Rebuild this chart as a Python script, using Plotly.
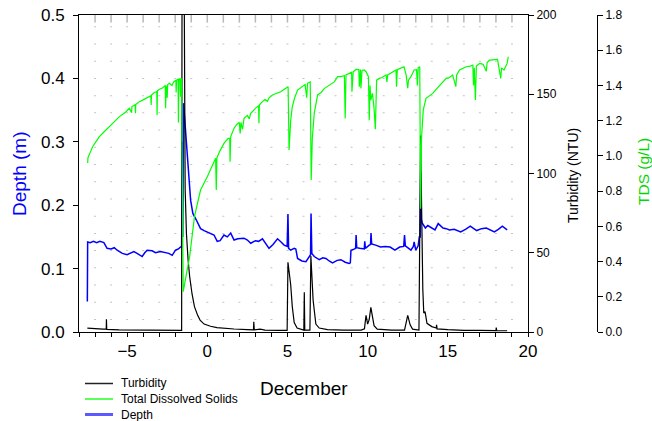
import plotly.graph_objects as go

# ---------------- data ----------------
depth_day = [-7.48, -7.46, -7.3, -7.1, -6.9, -6.7, -6.45, -6.25, -6.0, -5.8, -5.62, -5.3, -5.0, -4.8,
             -4.58, -4.38, -4.06, -3.9, -3.75, -3.44, -3.23, -2.92, -2.6, -2.4, -2.19, -1.98, -1.8,
             -1.67, -1.60, -1.57, -1.56, -1.55, -1.53, -1.51, -1.48, -1.04, -0.9, -0.69, -0.42, -0.2,
             0.0, 0.2, 0.42, 0.62, 0.8, 1.04, 1.25, 1.46, 1.67, 1.9, 2.29, 2.5, 2.71, 3.0, 3.2, 3.44,
             3.65, 3.85, 4.1, 4.38, 4.6, 4.79, 4.98, 5.03, 5.07, 5.2, 5.42, 5.52, 5.63, 5.9, 6.15,
             6.35, 6.44, 6.47, 6.52, 6.67, 6.98, 7.2, 7.4, 7.6, 7.81, 8.1, 8.33, 8.6, 8.85, 8.92,
             8.96, 9.1, 9.25, 9.28, 9.32, 9.5, 9.7, 9.79, 9.82, 9.86, 10.1, 10.18, 10.21, 10.25,
             10.5, 10.8, 11.1, 11.4, 11.7, 12.0, 12.25, 12.3, 12.35, 12.5, 12.7, 12.85, 12.9, 13.0,
             13.15, 13.22, 13.28, 13.31, 13.34, 13.4, 13.6, 13.75, 13.9, 14.2, 14.4, 14.7, 14.9,
             15.1, 15.4, 15.8, 16.1, 16.4, 16.8, 17.1, 17.4, 17.7, 17.9, 18.15, 18.4, 18.7]
depth_m = [0.048, 0.142, 0.141, 0.143, 0.141, 0.143, 0.141, 0.132, 0.131, 0.133, 0.129, 0.124, 0.122, 0.125,
           0.127, 0.124, 0.119, 0.125, 0.129, 0.128, 0.125, 0.127, 0.125, 0.124, 0.121, 0.129, 0.131,
           0.134, 0.134, 0.22, 0.14, 0.30, 0.15, 0.29, 0.361, 0.208, 0.187, 0.177, 0.163, 0.160,
           0.158, 0.156, 0.153, 0.143, 0.144, 0.153, 0.150, 0.156, 0.145, 0.147, 0.148, 0.145, 0.140, 0.144, 0.143, 0.147,
           0.140, 0.132, 0.138, 0.147, 0.142, 0.137, 0.135, 0.186, 0.132, 0.129, 0.132, 0.131, 0.116, 0.112, 0.111,
           0.118, 0.122, 0.187, 0.124, 0.119, 0.114, 0.117, 0.116, 0.112, 0.109, 0.113, 0.114, 0.110, 0.108, 0.109,
           0.129, 0.130, 0.132, 0.153, 0.133, 0.132, 0.131, 0.131, 0.143, 0.132, 0.137, 0.138, 0.156, 0.139,
           0.137, 0.134, 0.135, 0.134, 0.129, 0.134, 0.135, 0.153, 0.136, 0.133, 0.129, 0.135, 0.142, 0.129,
           0.136, 0.150, 0.150, 0.253, 0.178, 0.172, 0.164, 0.168, 0.166, 0.161, 0.171, 0.164, 0.163,
           0.161, 0.162, 0.158, 0.162, 0.167, 0.160, 0.163, 0.164, 0.160, 0.158, 0.162, 0.167, 0.161]

turb_day = [-7.48, -7.0, -6.5, -6.3, -6.29, -6.27, -5.5, -4.5, -3.5, -2.5, -1.6, -1.57, -1.45, -1.38,
            -1.3, -1.2, -1.1, -0.95, -0.8, -0.6, -0.45, -0.2, 0.2, 0.6, 1.0, 1.67, 2.5, 2.88, 2.9,
            2.93, 3.3, 3.6, 4.5, 4.98, 5.03, 5.2, 5.3, 5.42, 5.6, 5.9, 6.02, 6.05, 6.08, 6.4, 6.46,
            6.6, 6.77, 6.98, 7.5, 8.5, 9.6, 9.8, 9.9, 10.0, 10.1, 10.2, 10.4, 10.6, 11.5, 12.3, 12.5,
            12.65, 12.8, 13.2, 13.3, 13.44, 13.5, 13.58, 13.7, 14.0, 14.28, 14.3, 14.33, 15.0, 16.0,
            17.0, 18.0, 18.02, 18.05, 18.7]
turb_ntu = [2.5, 2.0, 1.8, 1.8, 8.0, 1.6, 1.3, 1.2, 1.0, 1.0, 1.0, 260, 240, 90,
            62, 46, 35, 24, 16, 10.5, 7.5, 5.0, 3.6, 2.8, 2.4, 1.9, 1.5, 1.4, 6.5,
            1.4, 1.8, 1.2, 1.0, 1.0, 44, 30, 16, 6, 2.5, 1.5, 1.2, 25, 1.2, 1.2, 48,
            20, 5, 2.5, 1.5, 1.2, 1.2, 2.0, 10.5, 5, 8, 15.5, 4, 1.8, 1.2, 1.2, 10.5,
            4.5, 1.8, 1.2, 124, 27, 12, 12.8, 5.5, 3.4, 2.5, 4.5, 2.0, 1.5, 1.0,
            1.0, 0.9, 2.8, 0.9, 0.8]

tds_day = [-7.46, -7.44, -7.3, -7.15, -6.95, -6.73, -6.4, -6.1, -5.9, -5.48, -5.1, -4.86, -4.72, -4.70,
           -4.5, -4.48, -4.46, -4.34, -4.23, -4.0, -3.8, -3.6, -3.52, -3.5, -3.48, -3.3, -3.15, -3.13,
           -3.11, -2.98, -2.8, -2.62, -2.6, -2.56, -2.5, -2.47, -2.36, -2.2, -2.1, -1.96, -1.94, -1.92,
           -1.82, -1.80, -1.78, -1.7, -1.67, -1.64, -1.6, -1.57, -1.5, -1.3, -1.1, -0.8, -0.59, -0.42,
           0.0, 0.3, 0.52, 0.56, 0.6, 0.8, 1.04, 1.3, 1.40, 1.42, 1.46, 1.67, 1.85, 2.0, 2.05, 2.1,
           2.2, 2.29, 2.5, 2.62, 2.7, 3.0, 3.2, 3.22, 3.25, 3.44, 3.6, 3.75, 3.85, 4.06, 4.3, 4.58,
           4.8, 5.0, 5.04, 5.1, 5.2, 5.3, 5.45, 5.63, 5.9, 6.1, 6.2, 6.25, 6.42, 6.48, 6.55, 6.67,
           6.88, 7.1, 7.29, 7.5, 7.7, 7.92, 8.13, 8.3, 8.55, 8.6, 8.65, 8.85, 9.0, 9.02, 9.1, 9.27,
           9.45, 9.48, 9.55, 9.58, 9.65, 9.79, 9.9, 10.05, 10.1, 10.15, 10.2, 10.3, 10.4, 10.48,
           10.56, 10.73, 10.9, 11.15, 11.2, 11.25, 11.56, 11.77, 11.8, 11.85, 12.1, 12.27, 12.4,
           12.5, 12.55, 12.7, 12.9, 13.05, 13.1, 13.15, 13.25, 13.3, 13.36, 13.47, 13.64, 13.85,
           14.06, 14.3, 14.5, 14.69, 14.9, 15.1, 15.3, 15.5, 15.55, 15.73, 15.95, 16.15, 16.4,
           16.56, 16.6, 16.65, 16.72, 16.78, 16.98, 17.2, 17.4, 17.45, 17.6, 17.9, 18.1, 18.3,
           18.35, 18.5, 18.7, 18.77]
tds_gl = [0.96, 0.99, 1.02, 1.052, 1.08, 1.109, 1.14, 1.165, 1.185, 1.223, 1.248, 1.27, 1.245, 1.28,
          1.29, 1.242, 1.292, 1.30, 1.308, 1.318, 1.33, 1.34, 1.342, 1.289, 1.345, 1.36, 1.365, 1.232,
          1.37, 1.378, 1.385, 1.40, 1.27, 1.40, 1.33, 1.405, 1.412, 1.40, 1.42, 1.43, 1.36, 1.43,
          1.435, 1.19, 1.43, 1.44, 1.336, 1.44, 1.435, 1.0, 0.229, 0.33, 0.428, 0.655, 0.749, 0.806,
          0.882, 0.94, 0.986, 0.806, 0.99, 1.03, 1.071, 1.10, 1.10, 0.967, 1.11, 1.157, 1.18, 1.19, 1.128, 1.19,
          1.15, 1.213, 1.23, 1.21, 1.24, 1.27, 1.285, 1.185, 1.29, 1.308, 1.32, 1.31, 1.33, 1.346, 1.355, 1.364,
          1.378, 1.393, 1.393, 1.033, 1.20, 1.279, 1.33, 1.374, 1.39, 1.405, 1.33, 1.412, 1.42, 0.863, 1.10, 1.242,
          1.346, 1.36, 1.382, 1.395, 1.41, 1.42, 1.45, 1.45, 1.455, 1.213, 1.46, 1.47, 1.475, 1.364, 1.478, 1.491,
          1.49, 1.393, 1.49, 1.384, 1.485, 1.488, 1.478, 1.45, 1.203, 1.40, 1.317, 1.355, 1.27, 1.151,
          1.43, 1.44, 1.445, 1.459, 1.42, 1.46, 1.478, 1.488, 1.393, 1.49, 1.50, 1.506, 1.46,
          1.384, 1.43, 1.45, 1.488, 1.49, 1.40, 1.50, 1.506, 0.70, 1.10, 1.261, 1.327, 1.34,
          1.355, 1.38, 1.40, 1.421, 1.44, 1.445, 1.459, 1.393, 1.46, 1.488, 1.50, 1.506, 1.51,
          1.516, 1.40, 1.50, 1.317, 1.51, 1.525, 1.52, 1.48, 1.53, 1.544, 1.546, 1.548, 1.44,
          1.50, 1.487, 1.525, 1.563]

x_major_ticks = [-5, 0, 5, 10, 15, 20]
grid_days = list(range(-7, 20))
legend_labels = ["Turbidity", "Total Dissolved Solids", "Depth"]
legend_colors = ["#222222", "#00ff00", "#5a5aff"]
legend_widths = [1.5, 1.3, 3]

# ---------------- figure ----------------
FONT = "Liberation Sans, Arial, sans-serif"
W, H = 652, 421
L, R, T, B = 79, 12, 15, 89
paper_w = W - L - R
xdom_end = (528 - L) / paper_w
tds_pos = (597 - L) / paper_w

def px_x(p):
    return (p - L) / paper_w

def px_y(p):
    return (332 - p) / (332 - T)

fig = go.Figure()
fig.add_trace(go.Scatter(x=turb_day, y=turb_ntu, mode="lines", name=legend_labels[0],
                         line=dict(color="black", width=1.2), yaxis="y2"))
fig.add_trace(go.Scatter(x=tds_day, y=tds_gl, mode="lines", name=legend_labels[1],
                         line=dict(color="#00ff00", width=1.2), yaxis="y3"))
fig.add_trace(go.Scatter(x=depth_day, y=depth_m, mode="lines", name=legend_labels[2],
                         line=dict(color="#0000ff", width=1.5), yaxis="y"))

shapes = []
y_dot_start = (332 - 320) / 634.0
for d in grid_days:
    shapes.append(dict(type="line", xref="x", yref="y", x0=d, x1=d, y0=y_dot_start, y1=0.492,
                       line=dict(color="#c4c4c4", width=2, dash="1px,16.22px"), layer="below"))
    shapes.append(dict(type="line", xref="x", yref="y", x0=d, x1=d, y0=0.5, y1=0.488,
                       line=dict(color="#b8b8b8", width=1.5), layer="below"))

annotations = [
    dict(text="Depth (m)", xref="paper", yref="paper", x=px_x(19), y=px_y(174),
         textangle=-90, showarrow=False, xanchor="center", yanchor="middle",
         font=dict(family=FONT, size=19, color="#0000ff")),
    dict(text="Turbidity (NTU)", xref="paper", yref="paper", x=px_x(573), y=px_y(176),
         textangle=-90, showarrow=False, xanchor="center", yanchor="middle",
         font=dict(family=FONT, size=14, color="black")),
    dict(text="TDS (g/L)", xref="paper", yref="paper", x=px_x(643), y=px_y(172),
         textangle=-90, showarrow=False, xanchor="center", yanchor="middle",
         font=dict(family=FONT, size=15.5, color="#00d800")),
    dict(text="December", xref="paper", yref="paper", x=px_x(303.5), y=px_y(388),
         showarrow=False, xanchor="center", yanchor="middle",
         font=dict(family=FONT, size=19, color="black")),
]

# hand-placed legend (rows at 383, 399, 414 px)
legend_rows = [383.5, 399, 414.5]
for lab, col, lw, ry in zip(legend_labels, legend_colors, legend_widths, legend_rows):
    shapes.append(dict(type="line", xref="paper", yref="paper", x0=px_x(85), x1=px_x(113),
                       y0=px_y(ry), y1=px_y(ry), line=dict(color=col, width=lw)))
    annotations.append(dict(text=lab, xref="paper", yref="paper", x=px_x(119), y=px_y(ry),
                            showarrow=False, xanchor="left", yanchor="middle",
                            font=dict(family=FONT, size=12, color="black")))

fig.update_layout(
    width=W, height=H,
    margin=dict(l=L, r=R, t=T, b=B, autoexpand=False),
    paper_bgcolor="white", plot_bgcolor="white",
    font=dict(family=FONT, color="black"),
    showlegend=False,
    xaxis=dict(domain=[0, xdom_end], range=[-8, 20], tickvals=x_major_ticks,
               ticks="outside", ticklen=4, tickcolor="black", tickwidth=1,
               showline=True, linecolor="black", linewidth=1, mirror=True,
               showgrid=False, zeroline=False, automargin=False,
               tickfont=dict(family=FONT, size=17, color="black"),
               minor=dict(dtick=1, tick0=0, ticks="outside", ticklen=4, tickcolor="black",
                          showgrid=False)),
    yaxis=dict(range=[0, 0.5], tickvals=[0, 0.1, 0.2, 0.3, 0.4, 0.5], tickformat=".1f",
               ticks="outside", ticklen=5, tickcolor="black",
               showline=True, linecolor="black", linewidth=1,
               showgrid=False, zeroline=False, automargin=False,
               ticklabelstandoff=5,
               tickfont=dict(family=FONT, size=17, color="black")),
    yaxis2=dict(range=[0, 200], tickvals=[0, 50, 100, 150, 200], overlaying="y", side="right",
                anchor="x", ticks="outside", ticklen=5, tickcolor="black",
                showline=True, linecolor="black", linewidth=1,
                showgrid=False, zeroline=False, automargin=False,
                tickfont=dict(family=FONT, size=12, color="black")),
    yaxis3=dict(range=[0, 1.8], tickvals=[0, 0.2, 0.4, 0.6, 0.8, 1.0, 1.2, 1.4, 1.6, 1.8],
                tickformat=".1f", overlaying="y", side="right", anchor="free", position=tds_pos,
                ticks="outside", ticklen=5, tickcolor="black",
                showline=True, linecolor="black", linewidth=1,
                showgrid=False, zeroline=False, automargin=False,
                tickfont=dict(family=FONT, size=12, color="black")),
    shapes=shapes,
    annotations=annotations,
)

fig.write_html("out.html", config={"displayModeBar": False},
               post_script="document.body.style.margin='0px';document.body.style.padding='0px';")
